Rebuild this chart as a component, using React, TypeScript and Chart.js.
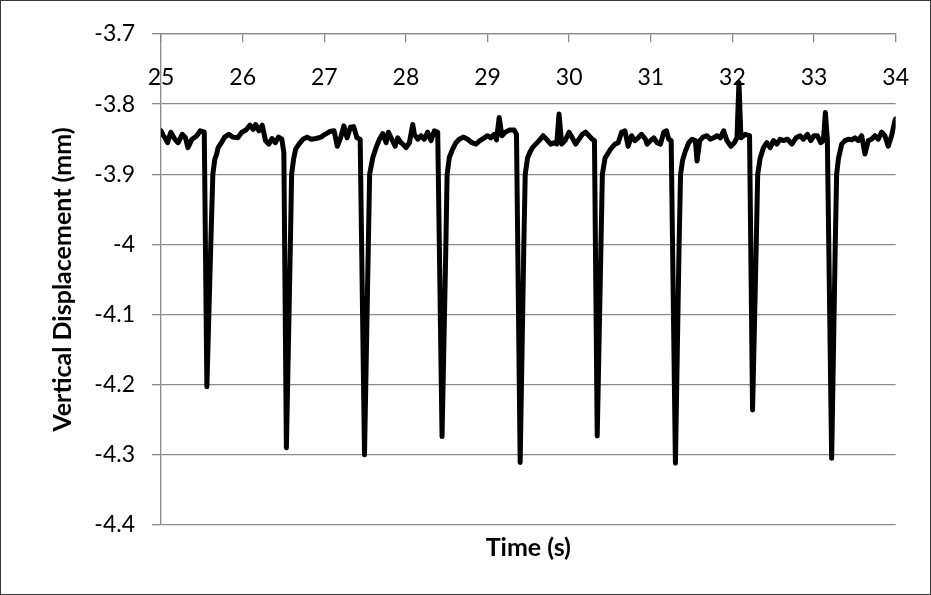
import React, { useEffect, useRef } from "react";
import { Chart, registerables } from "chart.js";

Chart.register(...registerables);

// Time (s)
const timeS: number[] = [
  25.0, 25.03, 25.05, 25.08, 25.12, 25.17, 25.21, 25.26, 25.3, 25.33, 25.38, 25.44, 25.48, 25.53,
  25.562, 25.61, 25.635, 25.66, 25.68, 25.7, 25.74, 25.78, 25.83, 25.88, 25.94, 25.99, 26.04,
  26.09, 26.13, 26.16, 26.2, 26.24, 26.28, 26.32, 26.36, 26.4, 26.44, 26.48, 26.505,
  26.536, 26.585, 26.6, 26.625, 26.65, 26.69, 26.74, 26.79, 26.84, 26.9, 26.96, 27.01, 27.07,
  27.12, 27.16, 27.2, 27.24, 27.28, 27.32, 27.36, 27.4, 27.44,
  27.493, 27.54, 27.556, 27.595, 27.635, 27.676, 27.717, 27.758, 27.786, 27.827, 27.868, 27.9,
  27.94, 27.962, 28.002, 28.043, 28.084, 28.104, 28.145, 28.186, 28.226, 28.267, 28.308, 28.349, 28.39,
  28.443, 28.49, 28.505, 28.532, 28.573, 28.613, 28.654, 28.703, 28.756, 28.809, 28.858, 28.907,
  28.96, 29.0, 29.041, 29.082, 29.11, 29.143, 29.176, 29.217, 29.265, 29.327, 29.355,
  29.4, 29.445, 29.462, 29.49, 29.518, 29.55, 29.591, 29.632, 29.681, 29.721, 29.774, 29.815,
  29.848, 29.876, 29.909, 29.95, 29.999, 30.039, 30.08, 30.121, 30.161, 30.202, 30.243, 30.283, 30.31,
  30.344, 30.39, 30.407, 30.44, 30.508, 30.561, 30.601, 30.642, 30.683, 30.723, 30.764, 30.805,
  30.846, 30.887, 30.935, 30.956, 30.996, 31.037, 31.078, 31.119, 31.159, 31.192, 31.22, 31.25,
  31.302, 31.347, 31.365, 31.39, 31.424, 31.465, 31.506, 31.546, 31.567, 31.6, 31.64, 31.689,
  31.73, 31.77, 31.811, 31.852, 31.893, 31.933, 31.982, 32.023, 32.056, 32.08, 32.105, 32.157, 32.21,
  32.247, 32.292, 32.31, 32.34, 32.381, 32.422, 32.463, 32.504, 32.544, 32.585, 32.626, 32.675,
  32.728, 32.78, 32.829, 32.87, 32.919, 32.96, 33.0, 33.041, 33.082, 33.115, 33.139, 33.163,
  33.216, 33.26, 33.277, 33.3, 33.339, 33.379, 33.42, 33.461, 33.502, 33.542, 33.583, 33.624,
  33.664, 33.705, 33.746, 33.787, 33.828, 33.868, 33.909, 33.95, 33.99, 34.0,
];

// Vertical displacement (mm)
const displacementMm: number[] = [
  -3.838, -3.845, -3.848, -3.855, -3.84, -3.85, -3.855, -3.843, -3.848, -3.862, -3.85, -3.845, -3.838, -3.84,
  -4.203, -4.0, -3.9, -3.878, -3.872, -3.862, -3.855, -3.847, -3.843, -3.847, -3.848, -3.84, -3.837,
  -3.83, -3.836, -3.829, -3.838, -3.83, -3.852, -3.857, -3.849, -3.855, -3.847, -3.85, -3.869,
  -4.29, -4.0, -3.9, -3.878, -3.864, -3.857, -3.85, -3.847, -3.85, -3.849, -3.847, -3.843, -3.839,
  -3.838, -3.86, -3.848, -3.831, -3.848, -3.833, -3.832, -3.848, -3.85,
  -4.3, -4.0, -3.9, -3.876, -3.862, -3.85, -3.842, -3.855, -3.84, -3.85, -3.86, -3.848,
  -3.855, -3.857, -3.862, -3.855, -3.829, -3.843, -3.85, -3.845, -3.85, -3.84, -3.852, -3.838, -3.84,
  -4.274, -4.0, -3.9, -3.876, -3.864, -3.855, -3.85, -3.847, -3.85, -3.855, -3.857, -3.852,
  -3.848, -3.845, -3.848, -3.843, -3.851, -3.819, -3.845, -3.84, -3.837, -3.837, -3.843,
  -4.311, -4.0, -3.9, -3.877, -3.869, -3.862, -3.857, -3.852, -3.845, -3.85, -3.857, -3.855,
  -3.857, -3.814, -3.857, -3.852, -3.84, -3.848, -3.857, -3.85, -3.843, -3.84, -3.845, -3.85, -3.852,
  -4.273, -4.0, -3.9, -3.877, -3.864, -3.857, -3.855, -3.84, -3.838, -3.86, -3.845, -3.852,
  -3.848, -3.843, -3.85, -3.857, -3.852, -3.848, -3.855, -3.857, -3.84, -3.838, -3.85, -3.852,
  -4.312, -4.0, -3.9, -3.88, -3.867, -3.855, -3.85, -3.852, -3.881, -3.852, -3.847, -3.845,
  -3.85, -3.848, -3.845, -3.848, -3.838, -3.852, -3.86, -3.855, -3.848, -3.769, -3.848, -3.843, -3.845,
  -4.236, -4.0, -3.9, -3.877, -3.862, -3.855, -3.862, -3.852, -3.857, -3.85, -3.852, -3.85,
  -3.857, -3.848, -3.845, -3.85, -3.843, -3.852, -3.845, -3.845, -3.855, -3.852, -3.812, -3.85,
  -4.305, -4.0, -3.9, -3.877, -3.857, -3.852, -3.85, -3.851, -3.848, -3.852, -3.845, -3.871,
  -3.852, -3.85, -3.845, -3.85, -3.84, -3.845, -3.86, -3.845, -3.824, -3.821,
];

const xMin = 25;
const xMax = 34;
const yMin = -4.4;
const yMax = -3.7;

const xTitle = "Time (s)";
const yTitle = "Vertical Displacement (mm)";

const FONT = "Lato, 'Open Sans', 'Noto Sans', sans-serif";
const GRID = "#8a8a8a";

const framePlugin = {
  id: "frame",
  afterDraw(chart: any) {
    const ctx = chart.ctx;
    ctx.save();
    ctx.strokeStyle = "#3a3a3a";
    ctx.lineWidth = 1;
    ctx.strokeRect(0.5, 0.5, chart.width - 1, chart.height - 1);
    ctx.restore();
  },
};

export default function App() {
  const canvasRef = useRef<HTMLCanvasElement | null>(null);

  useEffect(() => {
    if (!canvasRef.current) return;
    const points = timeS.map((t, i) => ({ x: t, y: displacementMm[i] }));
    const chart = new Chart(canvasRef.current, {
      type: "line",
      data: {
        datasets: [
          {
            data: points,
            borderColor: "#000000",
            borderWidth: 5,
            pointRadius: 0,
            tension: 0,
            fill: false,
            borderJoinStyle: "round",
            borderCapStyle: "round",
          },
        ],
      },
      options: {
        animation: false,
        responsive: false,
        maintainAspectRatio: false,
        layout: { padding: { left: 0, right: 33, top: 34, bottom: 0 } },
        plugins: {
          legend: { display: false },
          tooltip: { enabled: false },
          title: {
            display: true,
            text: xTitle,
            position: "bottom",
            fullSize: false,
            color: "#000",
            font: { family: FONT, size: 25, weight: "bold" },
            padding: { top: 8, bottom: 32 },
          },
        },
        scales: {
          x: {
            type: "linear",
            position: { y: yMax },
            min: xMin,
            max: xMax,
            ticks: {
              stepSize: 1,
              color: "#000",
              padding: 22,
              maxRotation: 0,
              font: { family: FONT, size: 23 },
            },
            grid: {
              display: true,
              drawOnChartArea: false,
              drawTicks: true,
              tickLength: 8,
              color: GRID,
              lineWidth: 1.3,
            },
            border: { display: true, color: GRID, width: 1.3 },
          },
          y: {
            type: "linear",
            position: "left",
            min: yMin,
            max: yMax,
            afterFit: (scale: any) => {
              scale.width = 161;
            },
            ticks: {
              stepSize: 0.1,
              color: "#000",
              padding: 17,
              font: { family: FONT, size: 23 },
              callback: (v: any) => String(Number(Number(v).toFixed(1))),
            },
            grid: {
              color: GRID,
              lineWidth: 1.3,
              drawTicks: true,
              tickLength: 9,
            },
            border: { display: true, color: GRID, width: 1.3 },
            title: {
              display: true,
              text: yTitle,
              color: "#000",
              font: { family: FONT, size: 25, weight: "bold" },
              padding: { top: 48, bottom: 0 },
            },
          },
        },
      },
      plugins: [framePlugin],
    } as any);
    return () => chart.destroy();
  }, []);

  return (
    <div style={{ position: "fixed", left: 0, top: 0, width: 931, height: 595, background: "#fff" }}>
      <canvas ref={canvasRef} width={931} height={595} style={{ width: 931, height: 595, display: "block" }} />
    </div>
  );
}
